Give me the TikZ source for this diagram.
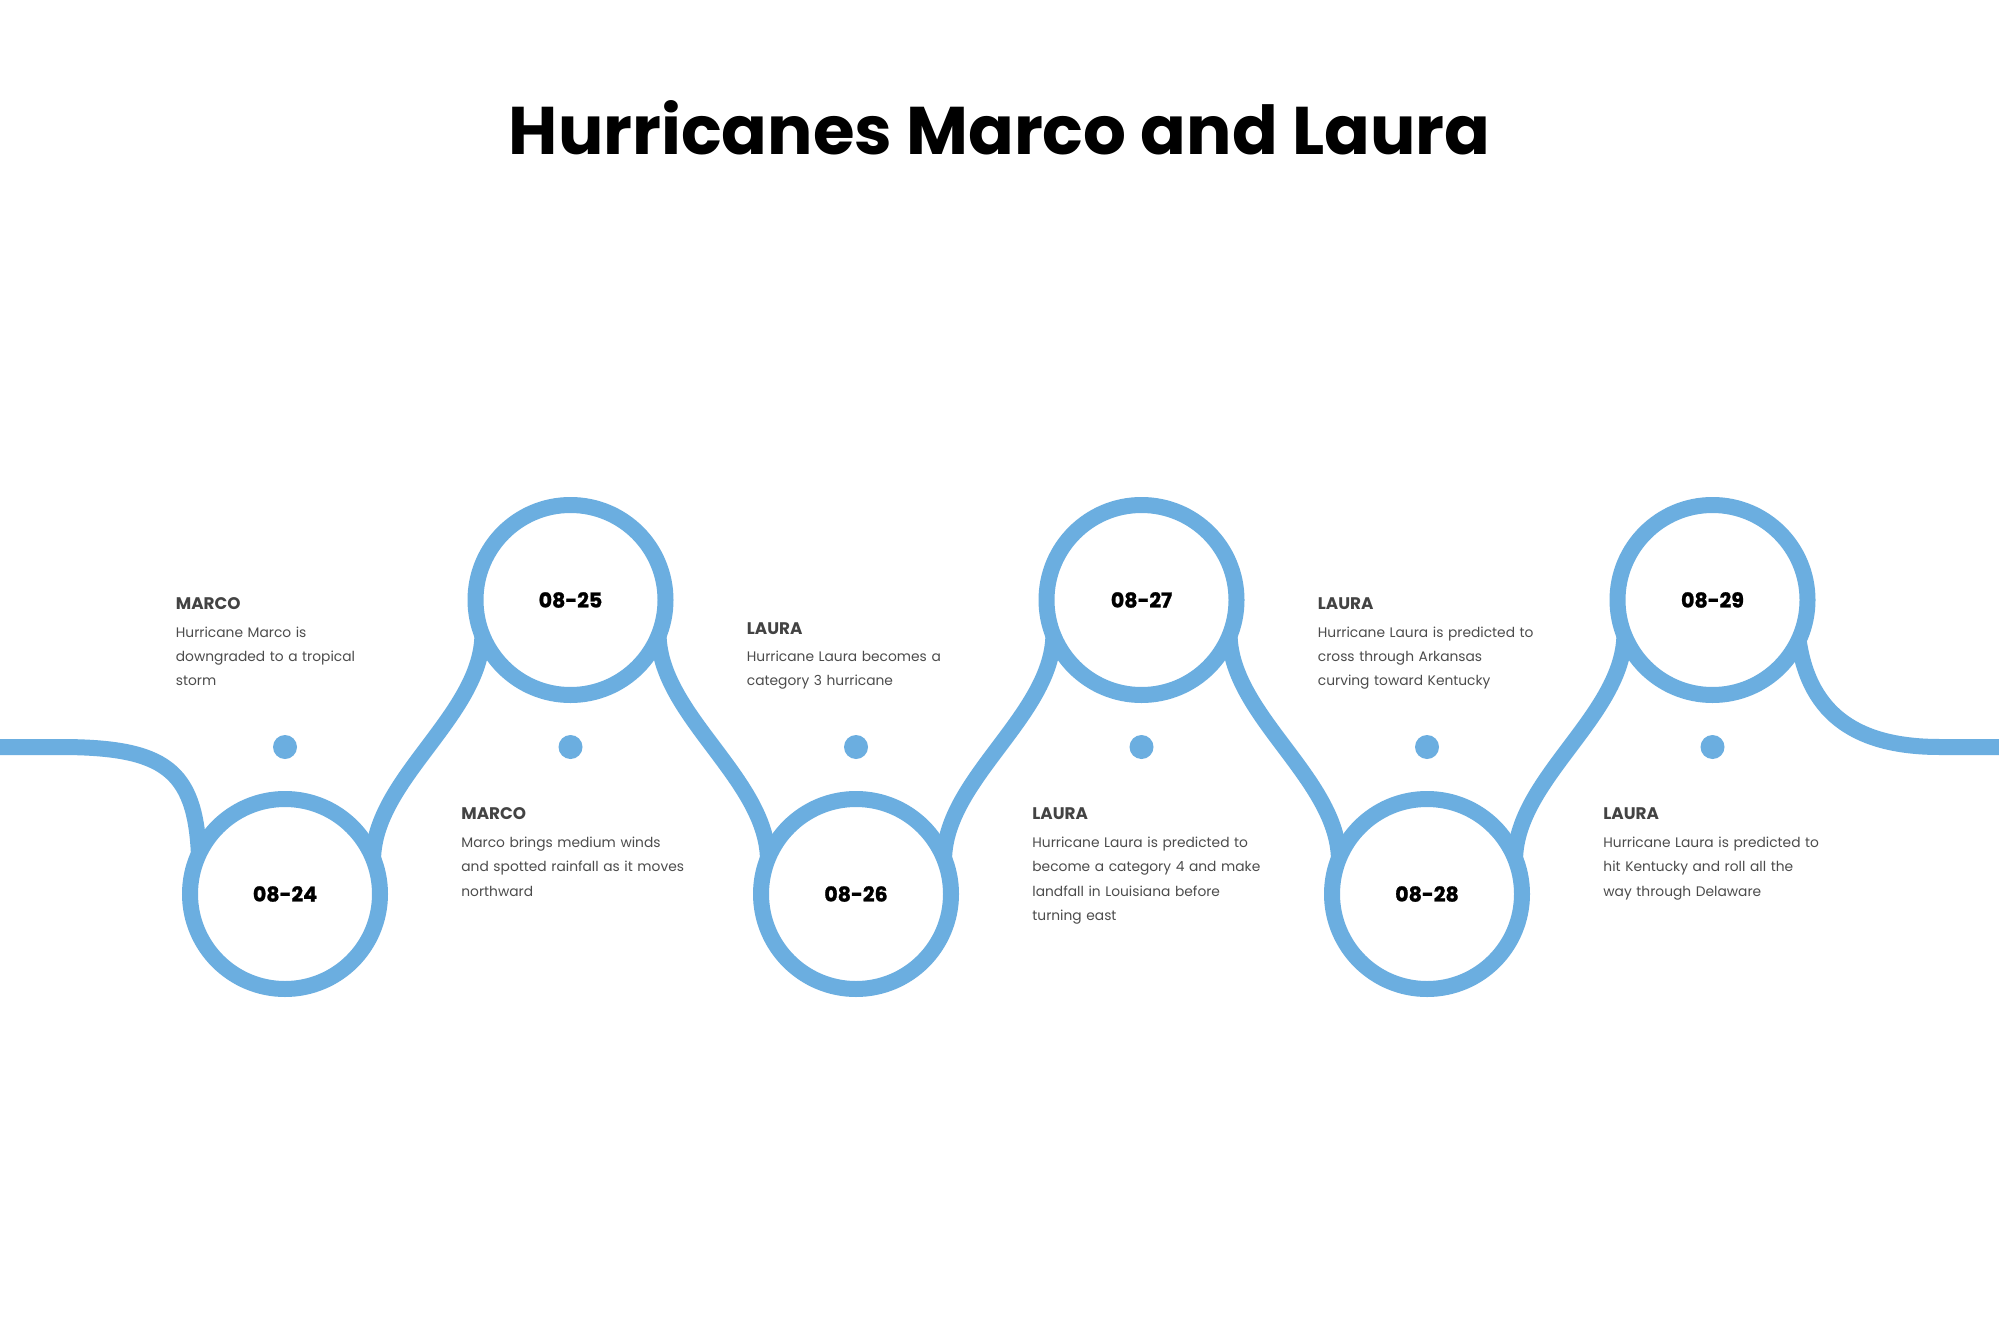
\documentclass[tikz,border=0pt]{standalone}
\usepackage{fontspec}
\setmainfont{Poppins}
\usetikzlibrary{backgrounds}
\definecolor{wave}{HTML}{6BAEE0}
\definecolor{headc}{HTML}{434343}
\definecolor{bodyc}{HTML}{4C4C4C}
\begin{document}
\begin{tikzpicture}[x=1pt,y=-1pt,
  ring/.style={circle, draw=wave, line width=16pt, fill=white, minimum size=190pt, inner sep=0pt, outer sep=0pt, font=\fontsize{20.5}{24}\selectfont\bfseries\addfontfeatures{FakeBold=1.2}},
  dot/.style={circle, fill=wave, minimum size=24pt, inner sep=0pt, outer sep=0pt},
  wavy/.style={draw=wave, line width=16pt},
  head/.style={anchor=base west, inner sep=0pt, text=headc, font=\fontsize{16.8}{18}\selectfont\bfseries},
  body/.style={anchor=base west, inner sep=0pt, text=bodyc, text width=270pt, align=left, font=\fontsize{13.8}{24.2}\selectfont},
  titlestyle/.style={anchor=base, inner sep=0pt, font=\fontsize{67.4}{80}\selectfont\bfseries}]
\useasboundingbox (0,0) rectangle (1999,1332);

\node[titlestyle] (title) at (999.5,155) {Hurricanes Marco and Laura};

% rings
\node[ring] (c1) at (285,894) {08-24};
\node[ring] (c2) at (570.5,600) {08-25};
\node[ring] (c3) at (856,894) {08-26};
\node[ring] (c4) at (1141.5,600) {08-27};
\node[ring] (c5) at (1427,894) {08-28};
\node[ring] (c6) at (1712.5,600) {08-29};

% dots
\node[dot] (d1) at (285,747) {};
\node[dot] (d2) at (570.5,747) {};
\node[dot] (d3) at (856,747) {};
\node[dot] (d4) at (1141.5,747) {};
\node[dot] (d5) at (1427,747) {};
\node[dot] (d6) at (1712.5,747) {};

% wave behind the rings
\begin{pgfonlayer}{background}
\fill[white] (0,0) rectangle (1999,1332);
\coordinate (lstart) at (-10,747);
\coordinate (ljoin) at (60,747);
\coordinate (rjoin) at (1940,747);
\coordinate (rend) at (2010,747);
\draw[wavy] (lstart) -- (ljoin) .. controls +(105,0) and +(-4,-84) .. (c1.155);
\draw[wavy] (c1.22) .. controls +(2,-80) and +(-2,80) .. (c2.202);
\draw[wavy] (c2.-22) .. controls +(2,80) and +(-2,-80) .. (c3.158);
\draw[wavy] (c3.22) .. controls +(2,-80) and +(-2,80) .. (c4.202);
\draw[wavy] (c4.-22) .. controls +(2,80) and +(-2,-80) .. (c5.158);
\draw[wavy] (c5.22) .. controls +(2,-80) and +(-2,80) .. (c6.202);
\draw[wavy] (c6.-25) .. controls +(11,77) and +(-80,0) .. (rjoin) -- (rend);
\end{pgfonlayer}

% text blocks
\node[head] (h1) at (175.7,609) {MARCO};
\node[body] (b1) at (175.7,637.5) {Hurricane Marco is\\downgraded to a tropical\\storm};

\node[head] (h2) at (461.2,819) {MARCO};
\node[body] (b2) at (461.2,847.7) {Marco brings medium winds\\and spotted rainfall as it moves\\northward};

\node[head] (h3) at (746.7,634) {LAURA};
\node[body] (b3) at (746.7,661.7) {Hurricane Laura becomes a\\category 3 hurricane};

\node[head] (h4) at (1032.2,819) {LAURA};
\node[body] (b4) at (1032.2,847.7) {Hurricane Laura is predicted to\\become a category 4 and make\\landfall in Louisiana before\\turning east};

\node[head] (h5) at (1317.7,609) {LAURA};
\node[body] (b5) at (1317.7,637.5) {Hurricane Laura is predicted to\\cross through Arkansas\\curving toward Kentucky};

\node[head] (h6) at (1603.2,819) {LAURA};
\node[body] (b6) at (1603.2,847.7) {Hurricane Laura is predicted to\\hit Kentucky and roll all the\\way through Delaware};
\end{tikzpicture}
\end{document}
